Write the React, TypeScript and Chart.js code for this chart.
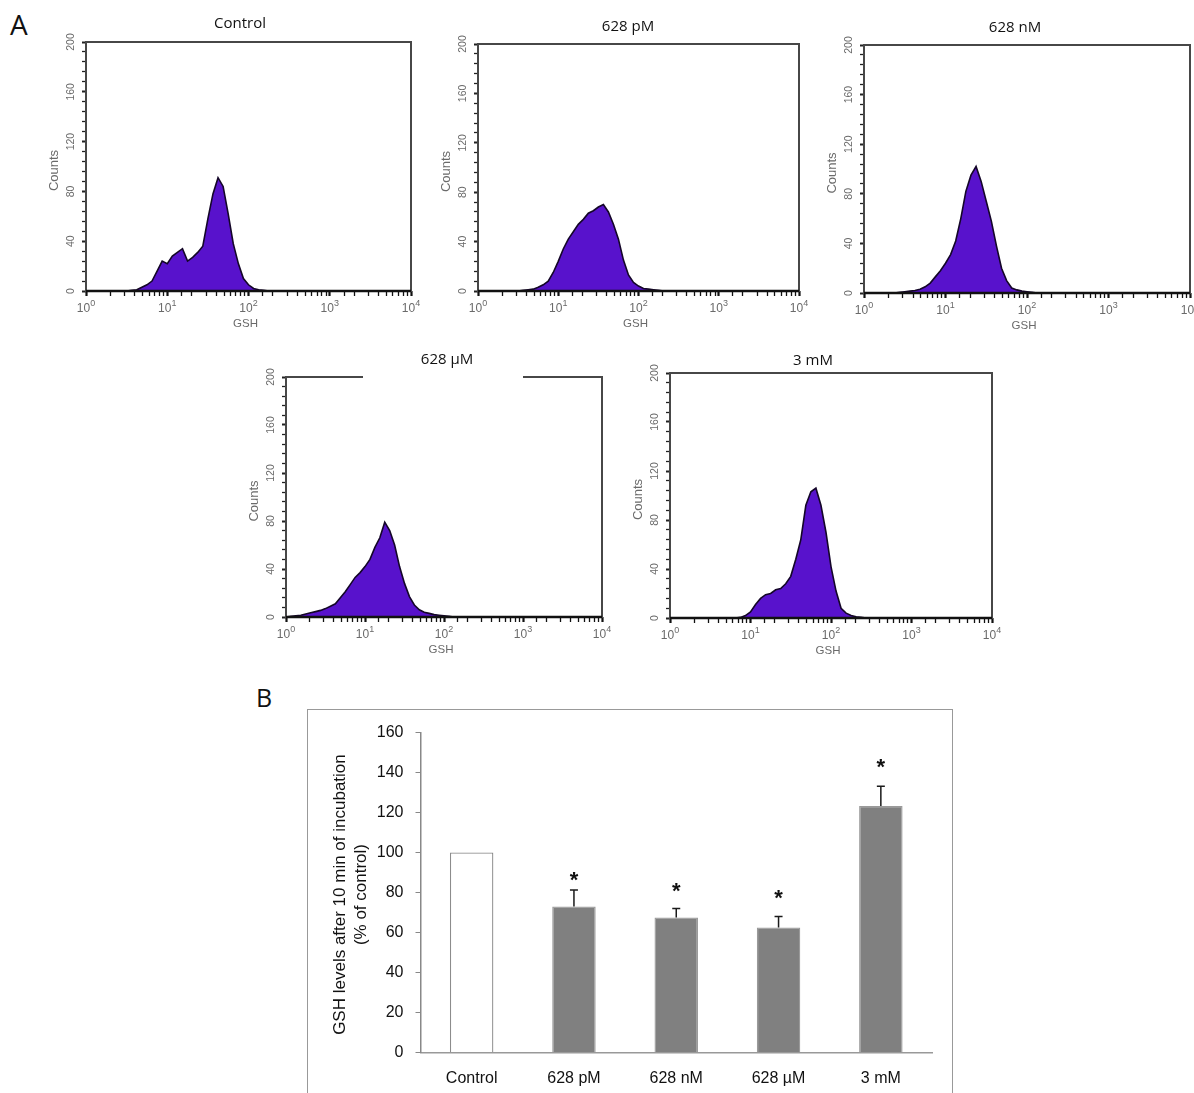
import React, { useEffect, useRef } from 'react';
import { Chart, registerables } from 'chart.js';

Chart.register(...registerables);

// ---------------- Panel A: flow cytometry histograms ----------------
// GSH channel bins (16 per decade up to 10^2.5, then the axis end)
const GSH_BINS = [
  1, 1.155, 1.334, 1.54, 1.778, 2.054, 2.371, 2.738, 3.162, 3.652, 4.217, 4.87, 5.623, 6.494, 7.499, 8.66,
  10, 11.55, 13.34, 15.4, 17.78, 20.54, 23.71, 27.38, 31.62, 36.52, 42.17, 48.7, 56.23, 64.94, 74.99, 86.6,
  100, 115.5, 133.4, 154.0, 177.8, 205.4, 237.1, 273.8, 316.2, 10000,
];

const COUNTS_CONTROL = [
  0, 0, 0, 0, 0, 0, 0, 0, 0, 0.5, 1, 3, 5, 8, 16, 24,
  22, 28, 31, 34, 24, 27, 31, 36, 58, 78, 91, 84, 62, 38, 22, 10,
  5, 2, 1, 0.5, 0, 0, 0, 0, 0, 0,
];
const COUNTS_628PM = [
  0, 0, 0, 0, 0, 0, 0, 0, 0, 0.5, 1, 1.5, 3, 5, 8, 15,
  24, 34, 42, 48, 54, 58, 63, 65, 68, 70, 64, 54, 42, 25, 13, 7,
  4, 2, 1.5, 1, 0.5, 0, 0, 0, 0, 0,
];
const COUNTS_628NM = [
  0, 0, 0, 0, 0, 0, 0, 0.5, 1, 1.5, 2, 3, 5, 8, 13, 18,
  24, 31, 42, 60, 82, 95, 102, 90, 74, 58, 38, 20, 10, 4, 2.5, 1.5,
  1, 0.5, 0, 0, 0, 0, 0, 0, 0, 0,
];
const COUNTS_628UM = [
  0, 0.5, 1, 1.5, 2.5, 3.5, 4.5, 5.5, 7, 9, 11, 16, 21, 27, 33, 37,
  42, 48, 58, 66, 79, 72, 60, 42, 28, 17, 10, 6, 4, 3, 2, 1.5,
  1, 0.5, 0, 0, 0, 0, 0, 0, 0, 0,
];
const COUNTS_3MM = [
  0, 0, 0, 0, 0, 0, 0, 0, 0, 0, 0, 0, 0, 0, 0.5, 2,
  5, 11, 16, 19, 20, 23, 24, 28, 34, 48, 64, 92, 103, 106, 92, 70,
  42, 22, 8, 4, 2, 1, 0.5, 0, 0, 0,
];

const PANEL_TITLES = ['Control', '628 pM', '628 nM', '628 \u00b5M', '3 mM'];
const PANEL_COUNTS = [COUNTS_CONTROL, COUNTS_628PM, COUNTS_628NM, COUNTS_628UM, COUNTS_3MM];
const HIST_Y_LABELS = [0, 40, 80, 120, 160, 200];
const HIST_X_DECADES = [1, 10, 100, 1000, 10000];
const HIST_X_EXPONENTS = ['0', '1', '2', '3', '4'];

// ---------------- Panel B: bar chart ----------------
const BAR_CATEGORIES = ['Control', '628 pM', '628 nM', '628 \u00b5M', '3 mM'];
const BAR_MEANS = [100, 73, 67.5, 62.5, 123.3];
const BAR_ERRORS = [0, 8.3, 4.5, 5.5, 9.9];
const STAR_LEVELS = [null, 88, 82.5, 79, 144.5];
const BAR_Y_TITLE = ['GSH levels after 10 min of incubation', '(% of control)'];

// ---------------- layout / style ----------------
const HIST_FILL = '#5812cc';
const HIST_EDGE = '#140628';
const HIST_TEXT = '#6a6a6a';

type PanelLayout = {
  left: number; top: number; right: number; bottom: number;
  titleX: number; titleDy: number; titleBox?: [number, number];
};

const PANEL_LAYOUTS: PanelLayout[] = [
  { left: 86, top: 42, right: 411, bottom: 291, titleX: 240, titleDy: -14 },
  { left: 478, top: 44, right: 799, bottom: 291, titleX: 628, titleDy: -13 },
  { left: 864, top: 45, right: 1190, bottom: 293, titleX: 1015, titleDy: -13 },
  { left: 286, top: 377, right: 602, bottom: 617, titleX: 447, titleDy: -13, titleBox: [363, 523] },
  { left: 670, top: 373, right: 992, bottom: 618, titleX: 813, titleDy: -8 },
];

const PAD_L = 10, YW = 50, PAD_T = 45, PAD_R = 15, XH = 8, PAD_B = 37;

function isPow10(v: number) {
  const l = Math.log10(v);
  return Math.abs(l - Math.round(l)) < 1e-6;
}

function HistogramPanel({ idx }: { idx: number }) {
  const ref = useRef<HTMLCanvasElement>(null);
  const L = PANEL_LAYOUTS[idx];
  const cLeft = L.left - PAD_L - YW;
  const cTop = L.top - PAD_T;
  const w = L.right - L.left + PAD_L + YW + PAD_R;
  const h = L.bottom - L.top + PAD_T + XH + PAD_B;

  useEffect(() => {
    const counts = PANEL_COUNTS[idx];
    const title = PANEL_TITLES[idx];
    const decor = {
      id: 'histDecor',
      afterDraw(chart: any) {
        const { ctx, chartArea: a, scales } = chart;
        const xs = scales.x, ys = scales.y;
        ctx.save();
        // frame
        ctx.strokeStyle = '#474747';
        ctx.lineWidth = 2;
        ctx.strokeRect(a.left, a.top, a.right - a.left, a.bottom - a.top);
        // baseline axis
        ctx.strokeStyle = '#111';
        ctx.lineWidth = 2.5;
        ctx.beginPath();
        ctx.moveTo(a.left, a.bottom);
        ctx.lineTo(a.right, a.bottom);
        ctx.stroke();
        // title
        if (L.titleBox) {
          ctx.fillStyle = '#ffffff';
          ctx.fillRect(L.titleBox[0] - cLeft, a.top - 24, L.titleBox[1] - L.titleBox[0], 25.5);
        }
        ctx.fillStyle = '#111';
        ctx.font = '15px "Open Sans", sans-serif';
        ctx.textAlign = 'center';
        ctx.textBaseline = 'alphabetic';
        ctx.fillText(title, L.titleX - cLeft, a.top + L.titleDy);
        // y tick labels (rotated)
        ctx.fillStyle = HIST_TEXT;
        ctx.font = '10.5px "Liberation Sans", Arial, sans-serif';
        ctx.textBaseline = 'middle';
        HIST_Y_LABELS.forEach((v) => {
          const y = ys.getPixelForValue(v);
          ctx.save();
          ctx.translate(a.left - 15, y);
          ctx.rotate(-Math.PI / 2);
          ctx.fillText(String(v), 0, 0);
          ctx.restore();
        });
        // Counts title
        ctx.font = '13px "Liberation Sans", Arial, sans-serif';
        ctx.save();
        ctx.translate(a.left - 32, (a.top + a.bottom) / 2 + 4);
        ctx.rotate(-Math.PI / 2);
        ctx.fillText('Counts', 0, 0);
        ctx.restore();
        // x decade labels
        ctx.textBaseline = 'alphabetic';
        ctx.textAlign = 'left';
        HIST_X_DECADES.forEach((v, i) => {
          const x = xs.getPixelForValue(v);
          ctx.font = '12px "Liberation Sans", Arial, sans-serif';
          const w1 = ctx.measureText('10').width;
          ctx.font = '9px "Liberation Sans", Arial, sans-serif';
          const w2 = ctx.measureText(HIST_X_EXPONENTS[i]).width;
          const sx = x - (w1 + w2) / 2;
          ctx.font = '12px "Liberation Sans", Arial, sans-serif';
          ctx.fillText('10', sx, a.bottom + 21);
          ctx.font = '9px "Liberation Sans", Arial, sans-serif';
          ctx.fillText(HIST_X_EXPONENTS[i], sx + w1, a.bottom + 15);
        });
        // GSH title
        ctx.textAlign = 'center';
        ctx.font = '11.5px "Liberation Sans", Arial, sans-serif';
        ctx.fillText('GSH', xs.getPixelForValue(100) - 3, a.bottom + 36);
        ctx.restore();
      },
    };

    const chart = new Chart(ref.current as HTMLCanvasElement, {
      type: 'line',
      data: {
        datasets: [
          {
            data: GSH_BINS.map((x, i) => ({ x, y: counts[i] })),
            fill: 'origin',
            backgroundColor: HIST_FILL,
            borderColor: HIST_EDGE,
            borderWidth: 1.6,
            pointRadius: 0,
            tension: 0,
          },
        ],
      },
      options: {
        responsive: false,
        animation: false,
        events: [],
        layout: { padding: { left: PAD_L, top: PAD_T, right: PAD_R, bottom: PAD_B } },
        plugins: { legend: { display: false }, tooltip: { enabled: false }, title: { display: false } },
        scales: {
          x: {
            type: 'logarithmic',
            min: 1,
            max: 10000,
            afterFit: (s: any) => { s.height = XH; },
            ticks: { autoSkip: false, maxRotation: 0, callback: () => '' },
            grid: {
              drawOnChartArea: false,
              drawTicks: true,
              tickLength: 5,
              tickColor: '#111',
              tickWidth: (c: any) => (c.tick && isPow10(c.tick.value) ? 2.2 : 1.3),
            },
            border: { display: false },
          },
          y: {
            type: 'linear',
            min: 0,
            max: 200,
            afterFit: (s: any) => { s.width = YW; },
            ticks: { stepSize: 8, autoSkip: false, callback: () => '' },
            grid: {
              drawOnChartArea: false,
              drawTicks: true,
              tickLength: 4,
              tickColor: '#222',
              tickWidth: (c: any) => (c.tick && c.tick.value % 40 === 0 ? 2 : 1.3),
            },
            border: { display: false },
          },
        },
      } as any,
      plugins: [decor],
    });
    return () => chart.destroy();
  }, []);

  return (
    <canvas
      ref={ref}
      width={w}
      height={h}
      style={{ position: 'absolute', left: cLeft, top: cTop, width: w, height: h }}
    />
  );
}

// Bar chart geometry
const B_LEFT = 308, B_TOP = 711, B_W = 643, B_H = 382;
const B_YW = 112.5, B_PT = 18.5, B_PR = 19, B_XH = 40.5;

function BarPanel() {
  const ref = useRef<HTMLCanvasElement>(null);
  useEffect(() => {
    const decor = {
      id: 'barDecor',
      afterDatasetsDraw(chart: any) {
        const { ctx, chartArea: a, scales } = chart;
        const ys = scales.y;
        const meta = chart.getDatasetMeta(0);
        ctx.save();
        // error bars (upper only)
        ctx.strokeStyle = '#1a1a1a';
        ctx.lineWidth = 1.5;
        BAR_MEANS.forEach((m, i) => {
          const e = BAR_ERRORS[i];
          if (!e) return;
          const x = meta.data[i].x;
          const y0 = ys.getPixelForValue(m);
          const y1 = ys.getPixelForValue(m + e);
          ctx.beginPath();
          ctx.moveTo(x, y0);
          ctx.lineTo(x, y1);
          ctx.moveTo(x - 4, y1);
          ctx.lineTo(x + 4, y1);
          ctx.stroke();
        });
        // significance stars
        ctx.fillStyle = '#111';
        ctx.font = 'bold 22px "Liberation Sans", Arial, sans-serif';
        ctx.textAlign = 'center';
        ctx.textBaseline = 'alphabetic';
        const mt = ctx.measureText('*');
        const off = (mt.actualBoundingBoxAscent - mt.actualBoundingBoxDescent) / 2;
        STAR_LEVELS.forEach((s, i) => {
          if (s == null) return;
          ctx.fillText('*', meta.data[i].x, ys.getPixelForValue(s) + off);
        });
        // y axis title
        ctx.font = '17px "Liberation Sans", Arial, sans-serif';
        ctx.textBaseline = 'middle';
        const cy = (a.top + a.bottom) / 2 + 2;
        const xs = [a.left - 80.5, a.left - 59.5];
        BAR_Y_TITLE.forEach((t, i) => {
          ctx.save();
          ctx.translate(xs[i], cy);
          ctx.rotate(-Math.PI / 2);
          ctx.fillText(t, 0, 0);
          ctx.restore();
        });
        ctx.restore();
      },
    };

    const chart = new Chart(ref.current as HTMLCanvasElement, {
      type: 'bar',
      data: {
        labels: BAR_CATEGORIES,
        datasets: [
          {
            data: BAR_MEANS,
            backgroundColor: BAR_MEANS.map((_, i) => (i === 0 ? '#ffffff' : '#808080')),
            borderColor: BAR_MEANS.map((_, i) => (i === 0 ? '#8c8c8c' : '#9a9a9a')),
            borderWidth: 1.3,
            barPercentage: 0.425,
            categoryPercentage: 1,
          },
        ],
      },
      options: {
        responsive: false,
        animation: false,
        events: [],
        layout: { padding: { left: 0, top: B_PT, right: B_PR, bottom: 0 } },
        plugins: { legend: { display: false }, tooltip: { enabled: false } },
        scales: {
          x: {
            afterFit: (s: any) => { s.height = B_XH; },
            ticks: { color: '#111', font: { family: '"Liberation Sans", Arial, sans-serif', size: 16 }, padding: 16, maxRotation: 0 },
            grid: { display: false, drawTicks: false },
            border: { display: true, color: '#999', width: 1.5 },
          },
          y: {
            min: 0,
            max: 160,
            afterFit: (s: any) => { s.width = B_YW; },
            ticks: { stepSize: 20, color: '#111', font: { family: '"Liberation Sans", Arial, sans-serif', size: 16 }, padding: 12 },
            grid: { drawOnChartArea: false, drawTicks: true, tickLength: 5, color: '#888' },
            border: { display: true, color: '#888', width: 1.5 },
          },
        },
      } as any,
      plugins: [decor],
    });
    return () => chart.destroy();
  }, []);
  return (
    <canvas
      ref={ref}
      width={B_W}
      height={B_H}
      style={{ position: 'absolute', left: B_LEFT, top: B_TOP, width: B_W, height: B_H }}
    />
  );
}

export default function App() {
  return (
    <div
      style={{
        position: 'fixed',
        left: 0,
        top: 0,
        width: 1194,
        height: 1093,
        overflow: 'hidden',
        background: '#ffffff',
      }}
    >
      <div style={{ position: 'absolute', left: 10, top: 10, font: '28px "Open Sans", sans-serif', lineHeight: '28px', color: '#111' }}>A</div>
      <div style={{ position: 'absolute', left: 256, top: 685, font: '25px "Open Sans", sans-serif', lineHeight: '25px', color: '#111' }}>B</div>
      {PANEL_LAYOUTS.map((_, i) => (
        <HistogramPanel key={i} idx={i} />
      ))}
      <div
        style={{
          position: 'absolute',
          left: 307,
          top: 709,
          width: 646,
          height: 420,
          border: '1px solid #999',
          boxSizing: 'border-box',
        }}
      />
      <BarPanel />
    </div>
  );
}
